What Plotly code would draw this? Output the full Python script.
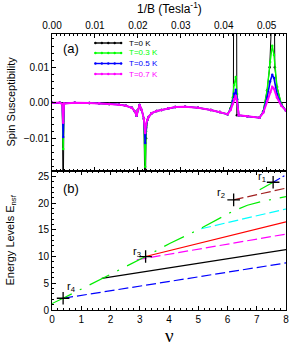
import plotly.graph_objects as go

# ---------------- data: panel (a) spin susceptibility vs 1/B ----------------
inv_b = [0.0, 0.0018, 0.0024, 0.0026, 0.0028, 0.0053, 0.0087, 0.0110, 0.0133, 0.0156,
         0.0172, 0.0186, 0.0193, 0.0197, 0.0200, 0.0204, 0.0209, 0.0214, 0.0217, 0.0219,
         0.0222, 0.0225, 0.0232, 0.0244, 0.0255, 0.0271, 0.0287, 0.0310, 0.0340, 0.0370,
         0.0391, 0.0409, 0.0416, 0.0421, 0.0424, 0.0428, 0.0431, 0.0435, 0.0455, 0.0483,
         0.0492, 0.0501, 0.0508, 0.0513, 0.0517, 0.0524, 0.0534, 0.0545]
# values in units of 1e-3
chi_07 = [0.0, 0.0, -0.3, -5.6, -0.2, 0.0, -0.05, -0.1, -0.3, -0.5,
          -0.8, -1.4, -2.4, -3.6, -2.0, -0.6, -2.0, -4.5, -8.5, -6.0,
          -4.8, -4.0, -2.9, -2.3, -2.0, -1.5, -1.2, -1.1, -1.4, -2.0,
          -2.6, -3.2, -2.0, -0.3, 1.0, 2.0, 0.3, -3.5, -3.8, -4.2,
          -2.8, 0.5, 3.0, 4.5, 4.0, 1.5, -0.8, -2.2]
chi_05 = [0.0, 0.0, -0.3, -9.6, -0.2, 0.0, -0.05, -0.1, -0.3, -0.5,
          -0.8, -1.4, -2.4, -3.6, -2.0, -0.6, -2.0, -4.5, -11.3, -7.0,
          -4.8, -4.0, -2.9, -2.3, -2.0, -1.5, -1.2, -1.1, -1.4, -2.0,
          -2.6, -3.2, -1.8, 0.5, 2.6, 3.7, 1.0, -3.5, -3.8, -4.2,
          -2.6, 1.5, 6.0, 7.9, 7.0, 2.5, -0.6, -2.2]
chi_03 = [0.0, 0.0, -0.3, -13.0, -0.2, 0.0, -0.05, -0.1, -0.3, -0.5,
          -0.8, -1.4, -2.4, -3.6, -2.0, -0.6, -2.0, -4.5, -18.0, -8.0,
          -4.8, -4.0, -2.9, -2.3, -2.0, -1.5, -1.2, -1.1, -1.4, -2.0,
          -2.6, -3.2, -1.5, 1.5, 5.0, 7.3, 2.5, -3.5, -3.8, -4.2,
          -2.4, 3.5, 11.5, 16.1, 13.5, 4.5, -0.3, -2.2]
inv_b_t0 = [0.0, 0.0018, 0.0024, 0.0026, 0.0028, 0.0053, 0.0087, 0.0110, 0.0133, 0.0156,
            0.0172, 0.0186, 0.0193, 0.0197, 0.0200, 0.0204, 0.0209, 0.0214, 0.0217, 0.0219,
            0.0222, 0.0225, 0.0232, 0.0244, 0.0255, 0.0271, 0.0287, 0.0310, 0.0340, 0.0370,
            0.0391, 0.0409, 0.0416, 0.04225, 0.04232, 0.04298, 0.04305, 0.0435, 0.0455, 0.0483,
            0.0492, 0.0501, 0.0507, 0.0510, 0.0517, 0.0519, 0.0524, 0.0534, 0.0545]
chi_00 = [0.0, 0.0, -0.3, -30.0, -0.2, 0.0, -0.05, -0.1, -0.3, -0.5,
          -0.8, -1.4, -2.4, -3.6, -2.0, -0.6, -2.0, -4.5, -30.0, -10.0,
          -4.8, -4.0, -2.9, -2.3, -2.0, -1.5, -1.2, -1.1, -1.4, -2.0,
          -2.6, -3.2, -1.5, 1.5, 40.0, 40.0, -3.5, -3.5, -3.8, -4.2,
          -2.4, 3.5, 10.0, 40.0, 40.0, 10.0, 4.5, -0.3, -2.2]
temps = ["T=0 K", "T=0.3 K", "T=0.5 K", "T=0.7 K"]

# ---------------- data: panel (b) energy levels vs nu ----------------
nu_blue_low, e_blue_low = [0.38, 8.0], [2.2, 8.8]
nu_black, e_black = [1.7, 8.0], [5.9, 11.3]
nu_magenta, e_magenta = [2.9, 8.0], [9.4, 14.2]
nu_red, e_red = [3.2, 8.0], [10.0, 16.5]
nu_cyan, e_cyan = [5.1, 8.0], [15.2, 18.9]
nu_green = [0.0, 0.38, 3.2, 4.04, 5.0, 5.56, 6.12, 6.68, 7.25, 8.0]
e_green = [1.2, 2.2, 10.0, 12.5, 15.0, 16.7, 18.3, 19.6, 20.4, 21.2]
nu_green2, e_green2 = [7.1, 7.56], [22.5, 23.9]
nu_brown, e_brown = [6.21, 8.0], [20.6, 22.8]
nu_blue_top, e_blue_top = [7.56, 8.0], [23.9, 25.3]
r_nu = [7.56, 6.21, 3.2, 0.38]
r_e = [23.9, 20.6, 10.0, 2.2]
r_labels = ["r<sub>1</sub>", "r<sub>2</sub>", "r<sub>3</sub>", "r<sub>4</sub>"]

# ---------------- layout geometry ----------------
W, H = 293, 346
L, R, T, B = 52, 4, 34, 36
PW, PH = W - L - R, H - T - B
SPLIT = 171
dom = (H - B - SPLIT) / PH


def pxx(p):
    return (p - L) / PW


def pxy(p):
    return (H - B - p) / PH


FONT = "Arial, 'Liberation Sans', sans-serif"
C_GREEN, C_BLUE, C_MAG = "#00ff00", "#0000ff", "#ff00ff"

fig = go.Figure()

scale = 1e-3
series_a = [
    (inv_b_t0, chi_00, "black", 1.0, temps[0]),
    (inv_b, chi_03, C_GREEN, 1.4, temps[1]),
    (inv_b, chi_05, C_BLUE, 1.6, temps[2]),
    (inv_b, chi_07, C_MAG, 2.0, temps[3]),
]
for xs, ys, col, lw, nm in series_a:
    fig.add_trace(go.Scatter(
        x=xs, y=[v * scale for v in ys], xaxis="x2", yaxis="y",
        mode="lines+markers", line=dict(color=col, width=lw),
        marker=dict(color=col, size=2.5), name=nm, showlegend=False))

lines_b = [
    (nu_blue_low, e_blue_low, C_BLUE, "10px,4px", 1.2),
    (nu_black, e_black, "black", "solid", 1.2),
    (nu_magenta, e_magenta, C_MAG, "10px,4px", 1.2),
    (nu_red, e_red, "#ff0000", "solid", 1.2),
    (nu_cyan, e_cyan, "#00ffff", "10px,4px", 1.2),
    (nu_green, e_green, "#00ee00", "22px,9px,2px,9px", 1.2),
    (nu_green2, e_green2, "#00ee00", "solid", 1.2),
    (nu_brown, e_brown, "#a02020", "10px,4px", 1.2),
    (nu_blue_top, e_blue_top, C_BLUE, "8px,3px,2px,3px", 1.2),
]
for xs, ys, col, dash, lw in lines_b:
    fig.add_trace(go.Scatter(x=xs, y=ys, xaxis="x", yaxis="y2", mode="lines",
                             line=dict(color=col, width=lw, dash=dash),
                             showlegend=False))

fig.add_trace(go.Scatter(x=r_nu, y=r_e, xaxis="x", yaxis="y2", mode="markers",
                         marker=dict(symbol="cross-thin", size=9,
                                     line=dict(color="black", width=1.3)),
                         showlegend=False))

shifts = [(-11, 5), (-13, 7), (-9, 5), (8, 11)]
annotations = []
for n, e, lab, (dx, dy) in zip(r_nu, r_e, r_labels, shifts):
    annotations.append(dict(x=n, y=e, xref="x", yref="y2", text=lab, showarrow=False,
                            xanchor="center", yanchor="middle",
                            xshift=dx, yshift=dy, font=dict(size=11, color="black", family=FONT)))


def ann(x, y, text, size, angle=0, family=FONT, color="black", xanchor="center"):
    return dict(x=x, y=y, xref="paper", yref="paper", text=text, showarrow=False,
                textangle=angle, xanchor=xanchor, yanchor="middle",
                font=dict(size=size, family=family, color=color))


annotations += [
    ann(0.5, pxy(8), "1/B (Tesla<sup>-1</sup>)", 12),
    ann(pxx(10), pxy(102), "Spin Susceptibility", 11, angle=-90),
    ann(pxx(10), pxy(240), "Energy Levels E<sub>nsf</sub>", 11, angle=-90),
    ann(0.5, pxy(335), "ν", 19, family="'Liberation Serif', serif"),
    ann(pxx(71), pxy(48), "(a)", 13),
    ann(pxx(71), pxy(188), "(b)", 13),
]

# compact legend drawn inside panel (a)
shapes = []
leg_rows = [43, 53, 63.5, 74]
leg_cols = ["black", C_GREEN, C_BLUE, C_MAG]
for yrow, col, nm in zip(leg_rows, leg_cols, temps):
    shapes.append(dict(type="line", xref="paper", yref="paper",
                       x0=pxx(95), x1=pxx(123), y0=pxy(yrow), y1=pxy(yrow),
                       line=dict(color=col, width=1.4)))
    for k in range(5):
        shapes.append(dict(type="circle", xref="paper", yref="paper",
                           xsizemode="pixel", ysizemode="pixel",
                           xanchor=pxx(96 + k * 6.5), yanchor=pxy(yrow),
                           x0=-1.2, x1=1.2, y0=-1.2, y1=1.2,
                           fillcolor=col, line=dict(width=0)))
    annotations.append(ann(pxx(128), pxy(yrow), nm, 8, color=col, xanchor="left"))

axis_common = dict(showline=True, linecolor="black", linewidth=1, showgrid=False,
                   ticks="inside", ticklen=4, tickcolor="black",
                   tickfont=dict(size=10, family=FONT, color="black"))

fig.update_layout(
    width=W, height=H, margin=dict(l=L, r=R, t=T, b=B),
    paper_bgcolor="white", plot_bgcolor="white", showlegend=False,
    xaxis=dict(anchor="y2", domain=[0, 1], range=[0, 8], dtick=1, zeroline=False,
               mirror="allticks",
               minor=dict(dtick=0.2, ticks="inside", ticklen=2, tickcolor="black"),
               **axis_common),
    xaxis2=dict(anchor="y", side="top", domain=[0, 1], range=[0, 0.0545], dtick=0.01,
                tickformat=".2f", zeroline=False, mirror="allticks",
                minor=dict(dtick=0.001, ticks="inside", ticklen=2, tickcolor="black"),
                **axis_common),
    yaxis=dict(anchor="x2", domain=[dom, 1], range=[-0.0192, 0.0194], dtick=0.01,
               tickformat=".2f", zeroline=True, zerolinecolor="black", zerolinewidth=1,
               mirror=True,
               minor=dict(dtick=0.002, ticks="inside", ticklen=2, tickcolor="black"),
               **axis_common),
    yaxis2=dict(anchor="x", domain=[0, dom], range=[0, 26], dtick=5, zeroline=False,
                mirror=True,
                minor=dict(dtick=1, ticks="inside", ticklen=2, tickcolor="black"),
                **axis_common),
    annotations=annotations, shapes=shapes,
)

fig.write_html("out.html", config={"displayModeBar": False},
               post_script="document.body.style.margin='0px';")
